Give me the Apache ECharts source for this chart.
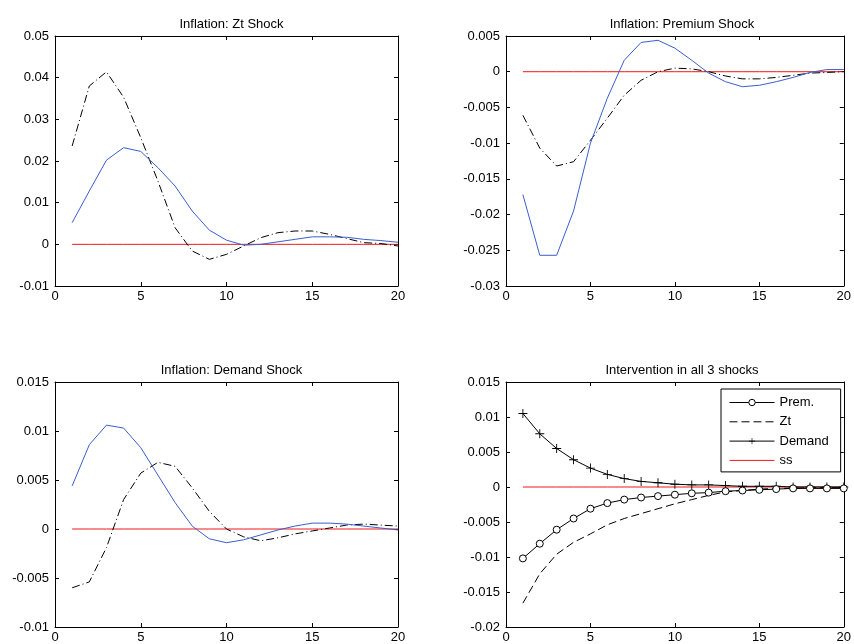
<!DOCTYPE html>
<html>
<head>
<meta charset="utf-8">
<script src="https://cdn.jsdelivr.net/npm/echarts@6/dist/echarts.min.js"></script>
<style>
  html, body { margin: 0; padding: 0; background: #fff; }
  #chart { width: 854px; height: 644px; }
</style>
</head>
<body>
<div id="chart"></div>
<script>
// Impulse-response horizon
const periods = [1, 2, 3, 4, 5, 6, 7, 8, 9, 10, 11, 12, 13, 14, 15, 16, 17, 18, 19, 20];
const steadyState = [0, 0, 0, 0, 0, 0, 0, 0, 0, 0, 0, 0, 0, 0, 0, 0, 0, 0, 0, 0];

// Inflation response to a Zt shock
const ztBlue = [0.0052, 0.0128, 0.0202, 0.0232, 0.0223, 0.0184, 0.0140, 0.0080, 0.0034, 0.0010,
                -0.0002, 0.0000, 0.0006, 0.0012, 0.0018, 0.0018, 0.0017, 0.0012, 0.0009, 0.0005];
const ztBlack = [0.0236, 0.0380, 0.0414, 0.0353, 0.0256, 0.0152, 0.0040, -0.0016, -0.0036, -0.0024,
                 -0.0004, 0.0016, 0.0028, 0.0032, 0.0032, 0.0024, 0.0014, 0.0004, 0.0002, -0.0004];

// Inflation response to a premium shock
const premBlue = [-0.0172, -0.0257, -0.0257, -0.0195, -0.0100, -0.0037, 0.0016, 0.0041, 0.0044, 0.0033,
                  0.0016, -0.0002, -0.0014, -0.0021, -0.0019, -0.0014, -0.0008, -0.0001, 0.0003, 0.0003];
const premBlack = [-0.0061, -0.0107, -0.0132, -0.0126, -0.0096, -0.0065, -0.0033, -0.0012, 0.0000, 0.0005,
                   0.0004, 0.0000, -0.0006, -0.0010, -0.0010, -0.0008, -0.0005, -0.0002, -0.0001, 0.0000];

// Inflation response to a demand shock
const demBlue = [0.0044, 0.0086, 0.0106, 0.0103, 0.0083, 0.0055, 0.0027, 0.0003, -0.0010, -0.0014,
                 -0.0011, -0.0006, -0.0001, 0.0003, 0.0006, 0.0006, 0.0005, 0.0003, 0.0001, -0.0001];
const demBlack = [-0.0060, -0.0054, -0.0019, 0.0030, 0.0057, 0.0068, 0.0064, 0.0042, 0.0018, 0.0000,
                  -0.0008, -0.0012, -0.0009, -0.0005, -0.0002, 0.0001, 0.0004, 0.0005, 0.0004, 0.0003];

// Policy intervention paths
const intPrem = [-0.0102, -0.0081, -0.0061, -0.0045, -0.0031, -0.0023, -0.0018, -0.0015, -0.0013, -0.0011,
                 -0.0009, -0.0008, -0.0006, -0.0005, -0.0004, -0.0003, -0.0002, -0.0002, -0.0002, -0.0002];
const intZt = [-0.0166, -0.0124, -0.0096, -0.0079, -0.0067, -0.0054, -0.0045, -0.0038, -0.0031, -0.0024,
               -0.0018, -0.0012, -0.0007, -0.0005, -0.0003, -0.0002, -0.0002, -0.0001, -0.0001, -0.0001];
const intDemand = [0.0105, 0.0076, 0.0055, 0.0039, 0.0027, 0.0018, 0.0012, 0.0008, 0.0006, 0.0004,
                   0.0003, 0.0003, 0.0002, 0.0001, 0.0001, 0.0001, 0.0000, 0.0000, 0.0000, 0.0000];

const panelTitles = ['Inflation: Zt Shock', 'Inflation: Premium Shock',
                     'Inflation: Demand Shock', 'Intervention in all 3 shocks'];
const yRanges = [[-0.01, 0.05, 0.01], [-0.03, 0.005, 0.005], [-0.01, 0.015, 0.005], [-0.02, 0.015, 0.005]];
const legendNames = ['Prem.', 'Zt', 'Demand', 'ss'];

const FONT = 'Liberation Sans, Arial, Helvetica, sans-serif';
const BLUE = '#3a5fcc';
const RED = '#f01818';
const DASHDOT = [8, 3, 1, 3];
// plus-sign marker
const PLUS = 'path://M-1,-10H1V10H-1ZM-10,-1H10V1H-10Z';

const grids = [
  { left: 55, top: 36, width: 343, height: 250 },
  { left: 506, top: 36, width: 342, height: 250 },
  { left: 55, top: 382, width: 343, height: 247 },
  { left: 506, top: 382, width: 342, height: 247 }
];

const pairs = (ys) => periods.map((p, i) => [p, ys[i]]);

const xAxes = [], yAxes = [], titles = [];
grids.forEach((g, i) => {
  const tick = { show: true, inside: true, length: 4, lineStyle: { color: '#000' } };
  const line = { show: true, onZero: false, lineStyle: { color: '#000', width: 1 } };
  xAxes.push({
    type: 'value', gridIndex: i, min: 0, max: 20, interval: 5, position: 'bottom',
    axisLine: line, axisTick: tick, splitLine: { show: false },
    axisLabel: { color: '#000', fontFamily: FONT, fontSize: 13, margin: 4 }
  });
  xAxes.push({
    type: 'value', gridIndex: i, min: 0, max: 20, interval: 5, position: 'top',
    axisLine: line, axisTick: tick, splitLine: { show: false }, axisLabel: { show: false }
  });
  const [lo, hi, step] = yRanges[i];
  yAxes.push({
    type: 'value', gridIndex: i, min: lo, max: hi, interval: step, position: 'left',
    axisLine: line, axisTick: tick, splitLine: { show: false },
    axisLabel: { color: '#000', fontFamily: FONT, fontSize: 13, margin: 6 }
  });
  yAxes.push({
    type: 'value', gridIndex: i, min: lo, max: hi, interval: step, position: 'right',
    axisLine: line, axisTick: tick, splitLine: { show: false }, axisLabel: { show: false }
  });
  titles.push({
    text: panelTitles[i], left: g.left + g.width / 2, top: g.top - 23, textAlign: 'center',
    textStyle: { color: '#000', fontFamily: FONT, fontSize: 13, fontWeight: 'normal' }
  });
});

function lineSeries(panel, ys, style, extra) {
  return Object.assign({
    type: 'line', xAxisIndex: panel * 2, yAxisIndex: panel * 2, data: pairs(ys),
    symbol: 'none', animation: false, silent: true,
    lineStyle: style
  }, extra || {});
}

const series = [
  lineSeries(0, steadyState, { color: RED, width: 1 }),
  lineSeries(0, ztBlack, { color: '#000', width: 1, type: DASHDOT }),
  lineSeries(0, ztBlue, { color: BLUE, width: 1 }),

  lineSeries(1, steadyState, { color: RED, width: 1 }),
  lineSeries(1, premBlack, { color: '#000', width: 1, type: DASHDOT }),
  lineSeries(1, premBlue, { color: BLUE, width: 1 }),

  lineSeries(2, steadyState, { color: RED, width: 1 }),
  lineSeries(2, demBlack, { color: '#000', width: 1, type: DASHDOT }),
  lineSeries(2, demBlue, { color: BLUE, width: 1 }),

  lineSeries(3, steadyState, { color: RED, width: 1 }, {
    name: legendNames[3], itemStyle: { color: RED }
  }),
  lineSeries(3, intZt, { color: '#000', width: 1, type: [8, 4] }, {
    name: legendNames[1], itemStyle: { color: '#000' }
  }),
  lineSeries(3, intDemand, { color: '#000', width: 1 }, {
    name: legendNames[2], symbol: PLUS, symbolSize: 9, showAllSymbol: true,
    itemStyle: { color: '#000' }
  }),
  lineSeries(3, intPrem, { color: '#000', width: 1 }, {
    name: legendNames[0], symbol: 'circle', symbolSize: 7, showAllSymbol: true,
    itemStyle: { color: '#fff', borderColor: '#000', borderWidth: 1 }
  })
];

const chart = echarts.init(document.getElementById('chart'), null, { renderer: 'canvas' });
chart.setOption({
  backgroundColor: '#fff',
  animation: false,
  title: titles,
  grid: grids,
  xAxis: xAxes,
  yAxis: yAxes,
  legend: {
    data: [
      { name: 'Prem.' },
      { name: 'Zt', itemStyle: { opacity: 0 } },
      { name: 'Demand' },
      { name: 'ss', itemStyle: { opacity: 0 } }
    ],
    orient: 'vertical', left: 721, top: 389,
    itemWidth: 45, itemHeight: 8, itemGap: 6.3,
    padding: [7, 12, 5, 8],
    borderColor: '#000', borderWidth: 1, backgroundColor: '#fff',
    selectedMode: false,
    lineStyle: { width: 1 },
    itemStyle: { borderWidth: 1 },
    textStyle: { color: '#000', fontFamily: FONT, fontSize: 13 }
  },
  series: series
});
</script>
</body>
</html>
